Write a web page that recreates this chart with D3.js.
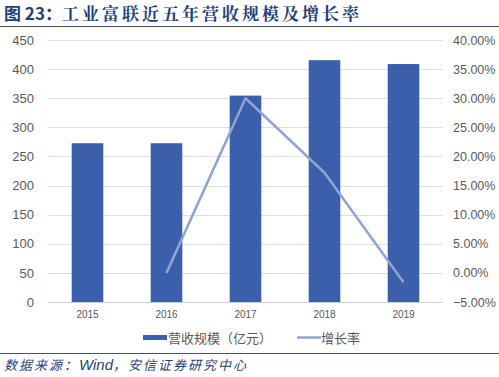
<!DOCTYPE html>
<html>
<head>
<meta charset="utf-8">
<script src="https://cdn.jsdelivr.net/npm/d3@7"></script>
<style>
  body { margin: 0; background: #fff; }
  svg { display: block; }
</style>
</head>
<body>
<svg id="chart"></svg>
<script>
var years = ["2015", "2016", "2017", "2018", "2019"];
var revenue = [272.7, 272.7, 354.5, 415.4, 408.7];   // 营收规模（亿元）
var growth = [null, 0.000, 0.300, 0.172, -0.016];     // 增长率
var leftTicks = [0, 50, 100, 150, 200, 250, 300, 350, 400, 450];
var rightTicks = [-0.05, 0, 0.05, 0.10, 0.15, 0.20, 0.25, 0.30, 0.35, 0.40];

var width = 499, height = 377;
var plotLeft = 48, plotRight = 443, plotTop = 40, plotBottom = 302;

var barColor = "#3c5fab", lineColor = "#8fa4d3", titleColor = "#1f3f7a";
var cnFont = "'Noto Sans CJK SC', 'Noto Sans', sans-serif";

var svg = d3.select("#chart")
  .attr("width", width)
  .attr("height", height);

var x = d3.scaleBand()
  .domain(years)
  .range([plotLeft, plotRight])
  .paddingInner(0.6)
  .paddingOuter(0.3);

var yL = d3.scaleLinear().domain([0, 450]).range([plotBottom, plotTop]);
var yR = d3.scaleLinear().domain([-0.05, 0.40]).range([plotBottom, plotTop]);

// title
var title = svg.append("text")
  .attr("x", 4)
  .attr("y", 20)
  .style("font-size", "17px")
  .style("font-weight", "bold")
  .style("fill", titleColor);
title.append("tspan")
  .style("font-family", "'Noto Sans CJK SC', sans-serif")
  .text("图 23：");
title.append("tspan")
  .style("font-family", "'Noto Serif CJK SC', 'Noto Sans CJK SC', serif")
  .style("letter-spacing", "3px")
  .text("工业富联近五年营收规模及增长率");

svg.append("line")
  .attr("x1", 0).attr("x2", width)
  .attr("y1", 26.5).attr("y2", 26.5)
  .style("stroke", "#3b5573")
  .style("stroke-width", 1.2);

// gridlines
svg.append("g").selectAll("line")
  .data(leftTicks)
  .enter().append("line")
  .attr("x1", plotLeft).attr("x2", plotRight)
  .attr("y1", function(d) { return Math.round(yL(d)) + 0.5; })
  .attr("y2", function(d) { return Math.round(yL(d)) + 0.5; })
  .style("stroke", function(d) { return d === 0 ? "#d0d0d0" : "#dedede"; })
  .style("stroke-width", 1);

// left axis
var leftAxis = svg.append("g")
  .attr("transform", "translate(" + (plotLeft - 14) + ",0)")
  .call(d3.axisLeft(yL).tickValues(leftTicks).tickSize(0).tickPadding(0));
leftAxis.select(".domain").remove();
leftAxis.selectAll("text")
  .style("font-family", "'Liberation Sans', Arial, sans-serif")
  .style("font-size", "13px")
  .style("fill", "#595959");

// right axis
var rightAxis = svg.append("g")
  .attr("transform", "translate(" + (plotRight + 10) + ",0)")
  .call(d3.axisRight(yR).tickValues(rightTicks).tickSize(0).tickPadding(0)
    .tickFormat(d3.format(".2%")));
rightAxis.select(".domain").remove();
rightAxis.selectAll("text")
  .style("font-family", "'Liberation Sans', Arial, sans-serif")
  .style("font-size", "12.5px")
  .style("fill", "#595959");

// bars
svg.append("g").selectAll("rect")
  .data(revenue)
  .enter().append("rect")
  .attr("x", function(d, i) { return x(years[i]); })
  .attr("y", function(d) { return yL(d); })
  .attr("width", x.bandwidth())
  .attr("height", function(d) { return yL(0) - yL(d); })
  .style("fill", barColor);

// x labels
svg.append("g").selectAll("text")
  .data(years)
  .enter().append("text")
  .attr("x", function(d) { return x(d) + x.bandwidth() / 2; })
  .attr("y", 318)
  .attr("text-anchor", "middle")
  .style("font-family", "'Liberation Sans', Arial, sans-serif")
  .style("font-size", "10px")
  .style("fill", "#595959")
  .text(function(d) { return d; });

// growth line
var line = d3.line()
  .defined(function(d) { return d !== null; })
  .x(function(d, i) { return x(years[i]) + x.bandwidth() / 2; })
  .y(function(d) { return yR(d); });

svg.append("path")
  .datum(growth)
  .attr("d", line)
  .style("fill", "none")
  .style("stroke", lineColor)
  .style("stroke-width", 2.5)
  .style("stroke-linejoin", "round");

// legend
var legend = svg.append("g");
legend.append("rect")
  .attr("x", 143).attr("y", 335)
  .attr("width", 24).attr("height", 5)
  .style("fill", barColor);
legend.append("text")
  .attr("x", 168).attr("y", 343)
  .style("font-family", cnFont)
  .style("font-size", "13px")
  .style("fill", "#595959")
  .text("营收规模（亿元）");
legend.append("line")
  .attr("x1", 297).attr("x2", 321)
  .attr("y1", 337.5).attr("y2", 337.5)
  .style("stroke", lineColor)
  .style("stroke-width", 2.5);
legend.append("text")
  .attr("x", 321).attr("y", 343)
  .style("font-family", cnFont)
  .style("font-size", "13px")
  .style("fill", "#595959")
  .text("增长率");

// footer
svg.append("line")
  .attr("x1", 0).attr("x2", width)
  .attr("y1", 353.5).attr("y2", 353.5)
  .style("stroke", "#3b5573")
  .style("stroke-width", 1.2);

var foot = svg.append("text")
  .attr("x", 4)
  .attr("y", 370)
  .style("font-family", cnFont)
  .style("font-size", "13px")
  .style("font-style", "italic")
  .style("fill", titleColor);
foot.append("tspan").style("letter-spacing", "2px").text("数据来源：");
foot.append("tspan").style("font-family", "'Liberation Sans', Arial, sans-serif")
  .style("font-size", "15px").text("Wind");
foot.append("tspan").style("letter-spacing", "2px").text("，安信证券研究中心");
</script>
</body>
</html>
